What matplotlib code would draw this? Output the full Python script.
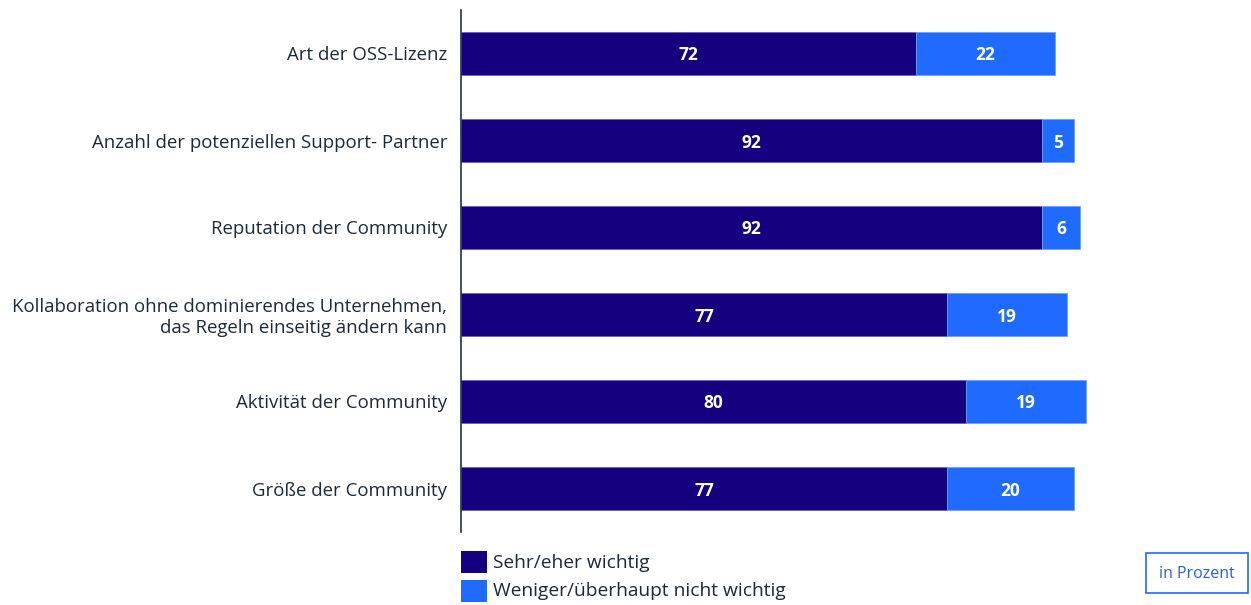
import matplotlib
matplotlib.use("Agg")
import matplotlib.pyplot as plt
from matplotlib.patches import Rectangle

categories = [
    "Art der OSS-Lizenz",
    "Anzahl der potenziellen Support- Partner",
    "Reputation der Community",
    "Kollaboration ohne dominierendes Unternehmen,\ndas Regeln einseitig ändern kann",
    "Aktivität der Community",
    "Größe der Community",
]
sehr_wichtig = [72, 92, 92, 77, 80, 77]
weniger_wichtig = [22, 5, 6, 19, 19, 20]
series_names = ["Sehr/eher wichtig", "Weniger/überhaupt nicht wichtig"]

c_dark = "#150080"
c_blue = "#1f6bff"
c_text = "#1b2a38"

plt.rcParams['font.family'] = ['Open Sans', 'DejaVu Sans']

fig = plt.figure(figsize=(12.51, 6.05), dpi=100)
ax = fig.add_axes([461/1251, 73/605, (1092.5-461)/1251, 522/605])

y = list(range(len(categories)))
h = 0.5
ax.barh(y, sehr_wichtig, height=h, color=c_dark, edgecolor="#6a5fc0", linewidth=0.6)
ax.barh(y, weniger_wichtig, left=sehr_wichtig, height=h, color=c_blue, edgecolor="#6fa0ff", linewidth=0.6)

for i in y:
    ax.text(sehr_wichtig[i] / 2, i, str(sehr_wichtig[i]), ha="center", va="center_baseline",
            color="white", fontsize=12.5, fontweight="bold")
    ax.text(sehr_wichtig[i] + weniger_wichtig[i] / 2, i, str(weniger_wichtig[i]),
            ha="center", va="center_baseline", color="white", fontsize=12.5, fontweight="bold")

ax.set_xlim(0, 100)
ax.set_ylim(5.5, -0.5)
ax.set_yticks(y)
ax.set_yticklabels(categories, fontsize=13.4, color=c_text, linespacing=1.2)
ax.tick_params(axis="y", length=0, pad=10)
ax.set_xticks([])
for s in ["top", "right", "bottom"]:
    ax.spines[s].set_visible(False)
ax.spines["left"].set_color("#23333f")
ax.spines["left"].set_linewidth(1.2)

# Legend
for k, (name, col) in enumerate(zip(series_names, [c_dark, c_blue])):
    ytop = 551 + k * 29
    fig.patches.append(Rectangle((461/1251, 1 - (ytop + 22)/605), 26/1251, 22/605,
                                 transform=fig.transFigure, facecolor=col, edgecolor="none"))
    fig.text(493/1251, 1 - (ytop + 11.5)/605, name, ha="left", va="center",
             fontsize=13.8, color=c_text)

# "in Prozent" box
fig.patches.append(Rectangle((1146/1251, 1 - 593/605), 102/1251, 40/605,
                             transform=fig.transFigure, facecolor="white",
                             edgecolor=c_blue, linewidth=1.2))
fig.text(1197/1251, 1 - 573.5/605, "in Prozent", ha="center", va="center",
         fontsize=11.5, color="#2a5fd8")

fig.savefig("out.png", dpi=100)
